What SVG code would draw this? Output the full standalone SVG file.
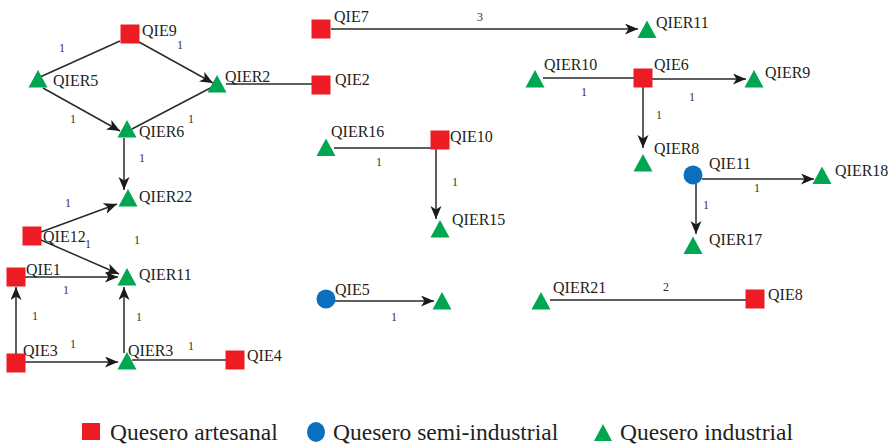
<svg xmlns="http://www.w3.org/2000/svg" width="895" height="445" viewBox="0 0 895 445">
<style>
.lbl{font-size:16px;fill:#231f20}
.el{font-size:12px;fill:#333333;text-anchor:middle}
.lg{font-size:23.5px;fill:#231f20}
.e{stroke:#2a2a2a;stroke-width:1.5;fill:none}
.a{marker-end:url(#arr)}
.sq{fill:#ed1c24}
.tri{fill:#00a650}
.ci{fill:#0a6fbf}
</style>
<defs>
<marker id="arr" markerUnits="userSpaceOnUse" markerWidth="14" markerHeight="12" refX="13" refY="5.5" orient="auto">
<path d="M0,0 L13,5.5 L0,11 L3.5,5.5 Z" fill="#1a1a1a"/>
</marker>
<rect id="s" x="-9.5" y="-9.5" width="19" height="19" class="sq"/>
<path id="t" d="M0,-9 L9.5,8.5 L-9.5,8.5 Z" class="tri"/>
</defs>
<rect width="895" height="445" fill="#fff"/>
<g id="connectors">
<line class="e" x1="40" y1="77" x2="120" y2="41"/>
<line class="e a" x1="139" y1="42" x2="213" y2="83"/>
<line class="e a" x1="43" y1="88" x2="120" y2="131"/>
<line class="e" x1="132" y1="129" x2="218" y2="84"/>
<line class="e a" x1="124" y1="138" x2="124" y2="190"/>
<line class="e" x1="226" y1="84" x2="312" y2="84"/>
<line class="e a" x1="41" y1="232" x2="117" y2="204"/>
<line class="e a" x1="41" y1="240" x2="119" y2="274"/>
<line class="e a" x1="25" y1="277" x2="118" y2="277"/>
<line class="e a" x1="16" y1="354" x2="16" y2="287"/>
<line class="e a" x1="25" y1="362" x2="118" y2="362"/>
<line class="e a" x1="124" y1="353" x2="124" y2="287"/>
<line class="e" x1="132" y1="360" x2="226" y2="360"/>
<line class="e a" x1="331" y1="29" x2="638" y2="29"/>
<line class="e" x1="543" y1="78" x2="634" y2="78"/>
<line class="e a" x1="652" y1="79" x2="746" y2="79"/>
<line class="e a" x1="643" y1="87" x2="643" y2="148"/>
<line class="e" x1="334" y1="148" x2="431" y2="148"/>
<line class="e a" x1="436" y1="149" x2="436" y2="219"/>
<line class="e a" x1="702" y1="179" x2="814" y2="179"/>
<line class="e a" x1="696" y1="184" x2="696" y2="234"/>
<line class="e a" x1="335" y1="301" x2="434" y2="301"/>
<line class="e" x1="550" y1="300" x2="746" y2="300"/>
</g>
<g id="edge-labels" font-family="Liberation Serif, Times New Roman, DejaVu Serif, serif">
<text class="el" x="62" y="52">1</text>
<text class="el" x="180" y="49">1</text>
<text class="el" x="73" y="123">1</text>
<text class="el" x="191" y="123">1</text>
<text class="el" x="142" y="162">1</text>
<text class="el" x="68" y="207">1</text>
<text class="el" x="88" y="248">1</text>
<text class="el" x="137" y="244">1</text>
<text class="el" x="66" y="294">1</text>
<text class="el" x="35" y="320">1</text>
<text class="el" x="73" y="348">1</text>
<text class="el" x="139" y="321">1</text>
<text class="el" x="191" y="350">1</text>
<text class="el" x="480" y="21">3</text>
<text class="el" x="584" y="96">1</text>
<text class="el" x="692" y="101">1</text>
<text class="el" x="659" y="119">1</text>
<text class="el" x="379" y="166">1</text>
<text class="el" x="455" y="186">1</text>
<text class="el" x="757" y="192">1</text>
<text class="el" x="706" y="209">1</text>
<text class="el" x="394" y="321">1</text>
<text class="el" x="666" y="291">2</text>
</g>
<g id="nodes" font-family="Liberation Serif, Times New Roman, DejaVu Serif, serif">
<g id="QIE9"><use href="#s" x="130" y="34"/><text class="lbl" x="142" y="36">QIE9</text></g>
<g id="QIER5"><use href="#t" x="38" y="79"/><text class="lbl" x="53" y="86">QIER5</text></g>
<g id="QIER2"><use href="#t" x="217" y="84"/><text class="lbl" x="225" y="82">QIER2</text></g>
<g id="QIER6"><use href="#t" x="127" y="129"/><text class="lbl" x="139" y="137">QIER6</text></g>
<g id="QIER22"><use href="#t" x="128" y="198"/><text class="lbl" x="139" y="202">QIER22</text></g>
<g id="QIE2"><use href="#s" x="321" y="85"/><text class="lbl" x="335" y="85">QIE2</text></g>
<g id="QIE12"><use href="#s" x="32" y="236"/><text class="lbl" x="43" y="242">QIE12</text></g>
<g id="QIE1"><use href="#s" x="16" y="277"/><text class="lbl" x="26" y="275">QIE1</text></g>
<g id="QIER11a"><use href="#t" x="127" y="277"/><text class="lbl" x="139" y="280">QIER11</text></g>
<g id="QIE3"><use href="#s" x="16" y="363"/><text class="lbl" x="23" y="356">QIE3</text></g>
<g id="QIER3"><use href="#t" x="127" y="361"/><text class="lbl" x="128" y="356">QIER3</text></g>
<g id="QIE4"><use href="#s" x="235" y="360"/><text class="lbl" x="247" y="361">QIE4</text></g>
<g id="QIE7"><use href="#s" x="321" y="29"/><text class="lbl" x="334" y="22">QIE7</text></g>
<g id="QIER11b"><use href="#t" x="647" y="29.5"/><text class="lbl" x="656" y="28">QIER11</text></g>
<g id="QIER10"><use href="#t" x="535" y="79"/><text class="lbl" x="544" y="70">QIER10</text></g>
<g id="QIE6"><use href="#s" x="643" y="78"/><text class="lbl" x="654" y="70">QIE6</text></g>
<g id="QIER9"><use href="#t" x="754" y="79"/><text class="lbl" x="765" y="78">QIER9</text></g>
<g id="QIER8"><use href="#t" x="643" y="163"/><text class="lbl" x="654" y="154">QIER8</text></g>
<g id="QIE11"><circle class="ci" cx="693" cy="175" r="9.5"/><text class="lbl" x="709" y="169">QIE11</text></g>
<g id="QIER18"><use href="#t" x="822" y="175.5"/><text class="lbl" x="835" y="176">QIER18</text></g>
<g id="QIER17"><use href="#t" x="693" y="245.5"/><text class="lbl" x="709" y="245">QIER17</text></g>
<g id="QIER16"><use href="#t" x="326" y="147.5"/><text class="lbl" x="331" y="137">QIER16</text></g>
<g id="QIE10"><use href="#s" x="440" y="140"/><text class="lbl" x="450" y="142">QIE10</text></g>
<g id="QIER15"><use href="#t" x="440" y="229"/><text class="lbl" x="452" y="225">QIER15</text></g>
<g id="QIE5"><circle class="ci" cx="326" cy="299" r="9.5"/><text class="lbl" x="335" y="295">QIE5</text></g>
<g id="unlabeled-industrial"><use href="#t" x="442" y="301"/></g>
<g id="QIER21"><use href="#t" x="541" y="301"/><text class="lbl" x="553" y="293">QIER21</text></g>
<g id="QIE8"><use href="#s" x="755" y="299"/><text class="lbl" x="768" y="300">QIE8</text></g>
</g>
<g id="legend" font-family="Liberation Serif, Times New Roman, DejaVu Serif, serif">
<rect class="sq" x="82" y="423" width="18" height="17"/>
<text class="lg" x="110" y="440">Quesero artesanal</text>
<ellipse class="ci" cx="316" cy="432" rx="9" ry="10"/>
<text class="lg" x="333" y="440">Quesero semi-industrial</text>
<path class="tri" d="M603,424 L612,441 L594,441 Z"/>
<text class="lg" x="620" y="440">Quesero industrial</text>
</g>
</svg>
